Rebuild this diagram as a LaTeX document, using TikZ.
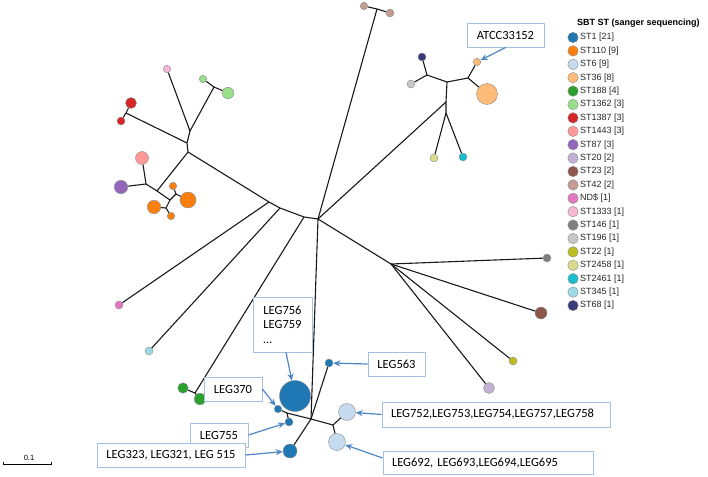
\documentclass[tikz,border=0pt]{standalone}
\usepackage{fontspec}
\setmainfont{Liberation Sans}
\newfontfamily\calibri{Carlito}
\usetikzlibrary{arrows.meta}
\definecolor{cST1}{HTML}{1F77B4}
\definecolor{cST110}{HTML}{FF7F0E}
\definecolor{cST6}{HTML}{C6DBEF}
\definecolor{cST36}{HTML}{FFBB78}
\definecolor{cST188}{HTML}{2CA02C}
\definecolor{cST1362}{HTML}{98DF8A}
\definecolor{cST1387}{HTML}{D62728}
\definecolor{cST1443}{HTML}{FF9896}
\definecolor{cST87}{HTML}{9467BD}
\definecolor{cST20}{HTML}{C5B0D5}
\definecolor{cST23}{HTML}{8C564B}
\definecolor{cST42}{HTML}{C49C94}
\definecolor{cND}{HTML}{E377C2}
\definecolor{cST1333}{HTML}{F7B6D2}
\definecolor{cST146}{HTML}{7F7F7F}
\definecolor{cST196}{HTML}{C7C7C7}
\definecolor{cST22}{HTML}{BCBD22}
\definecolor{cST2458}{HTML}{DBDB8D}
\definecolor{cST2461}{HTML}{17BECF}
\definecolor{cST345}{HTML}{9EDAE5}
\definecolor{cST68}{HTML}{393B79}
\definecolor{boxblue}{HTML}{A3BFE2}
\definecolor{arrowblue}{HTML}{4F86C6}
\tikzset{
  edge/.style={draw=black!90, line width=1.1pt, line join=round},
  stnode/.style={circle, draw=black!45, line width=0.4pt, inner sep=0pt, minimum size=#1},
  lbl/.style={draw=boxblue, line width=0.9pt, fill=white, inner sep=0pt,
    font=\calibri\fontsize{12.5}{14.4}\selectfont, text=black},
  callout/.style={draw=arrowblue, line width=1.2pt, -{Stealth[length=7pt,width=6pt]}},
  legtxt/.style={anchor=west, inner sep=0pt, font=\fontsize{9}{11}\selectfont, text=black!85},
}
\begin{document}
\begin{tikzpicture}[x=1pt,y=-1pt]
\useasboundingbox (0,0) rectangle (708,476);

% ---------- upper-left cluster ----------
\node[stnode=7.5, fill=cST1333] (p1333) at (167,69) {};
\node[stnode=7.5, fill=cST1362] (g1362a) at (203,79) {};
\node[stnode=11.5, fill=cST1362] (g1362b) at (228,93) {};
\coordinate (jg) at (214,87);
\coordinate (A) at (190,131);
\coordinate (Ared) at (187,143);
\coordinate (B) at (188,152);
\node[stnode=11, fill=cST1387] (r1) at (131,103) {};
\node[stnode=8, fill=cST1387] (r2) at (121,121) {};
\coordinate (jr) at (126,113);
\node[stnode=13, fill=cST1443] (pk) at (142,158) {};
\node[stnode=13.5, fill=cST87] (pu) at (121,187) {};
\coordinate (C) at (146,184);
\coordinate (L) at (157,191);
\coordinate (D) at (170,200);
\coordinate (E) at (176,194);
\coordinate (F) at (166,208);
\node[stnode=7.5, fill=cST110] (o1) at (173,186) {};
\node[stnode=16, fill=cST110] (o2) at (188,200) {};
\node[stnode=13.5, fill=cST110] (o3) at (154,207) {};
\node[stnode=7.5, fill=cST110] (o4) at (171,216) {};

% ---------- main backbone ----------
\coordinate (P1) at (269,202);
\coordinate (P2) at (280,208);
\coordinate (P3) at (304,217);
\coordinate (R) at (318,219);
\node[stnode=8, fill=cND] (nd) at (119,305) {};
\node[stnode=8, fill=cST345] (s345) at (149,351) {};
\coordinate (G) at (195,393);
\node[stnode=10.5, fill=cST188] (gr1) at (183,388) {};
\node[stnode=11.5, fill=cST188] (gr2) at (200,399) {};

% ---------- top ----------
\coordinate (T) at (377,9);
\node[stnode=7.5, fill=cST42] (b1) at (364,6) {};
\node[stnode=8, fill=cST42] (b2) at (390,13) {};

% ---------- upper-right cluster ----------
\coordinate (K2) at (446,102);
\coordinate (K1) at (447,82);
\coordinate (K3) at (446,113);
\node[stnode=8, fill=cST2458] (s2458) at (434,158) {};
\node[stnode=8, fill=cST2461] (s2461) at (463,157) {};
\coordinate (Kl) at (427,75);
\node[stnode=8, fill=cST68] (navy) at (422,57) {};
\node[stnode=8, fill=cST196] (g196) at (411,84) {};
\coordinate (Kr) at (468,78);
\node[stnode=7.5, fill=cST36] (atcc) at (477,62) {};
\node[stnode=21, fill=cST36] (big36) at (487,94) {};

% ---------- right branches ----------
\coordinate (Q) at (391,264);
\node[stnode=8, fill=cST146] (s146) at (547,258) {};
\node[stnode=12, fill=cST23] (s23) at (541,313) {};
\node[stnode=8, fill=cST22] (s22) at (513,361) {};
\node[stnode=11, fill=cST20] (s20) at (489,388) {};

% ---------- bottom cluster ----------
\coordinate (J1) at (287,413);
\coordinate (J2) at (311,419);
\coordinate (J3) at (333,425);
\node[stnode=31, fill=cST1] (n756) at (295,396) {};
\node[stnode=7.5, fill=cST1] (n370) at (278,409) {};
\node[stnode=8, fill=cST1] (n755) at (289,422) {};
\node[stnode=8, fill=cST1] (n563) at (329,363) {};
\node[stnode=14, fill=cST1] (n323) at (290,451) {};
\node[stnode=17, fill=cST6] (n6a) at (347,412) {};
\node[stnode=17, fill=cST6] (n6b) at (337,442) {};

% ---------- edges ----------
\draw[edge] (p1333) -- (A);
\draw[edge] (jg) -- (g1362a);
\draw[edge] (jg) -- (g1362b);
\draw[edge] (jg) -- (A);
\draw[edge] (A) -- (Ared) -- (B);
\draw[edge] (jr) -- (r1);
\draw[edge] (jr) -- (r2);
\draw[edge] (jr) -- (Ared);
\draw[edge] (B) -- (L);
\draw[edge] (pk) -- (C);
\draw[edge] (pu) -- (C);
\draw[edge] (C) -- (L) -- (D);
\draw[edge] (E) -- (D) -- (F);
\draw[edge] (E) -- (o1);
\draw[edge] (E) -- (o2);
\draw[edge] (F) -- (o3);
\draw[edge] (F) -- (o4);
\draw[edge] (B) -- (P1) -- (P2) -- (P3) -- (R);
\draw[edge] (P1) -- (nd);
\draw[edge] (P2) -- (s345);
\draw[edge] (P3) -- (G);
\draw[edge] (G) -- (gr1);
\draw[edge] (G) -- (gr2);
\draw[edge] (R) -- (T);
\draw[edge] (T) -- (b1);
\draw[edge] (T) -- (b2);
\draw[edge] (R) -- (K2);
\draw[edge] (K1) -- (K2) -- (K3);
\draw[edge] (K3) -- (s2458);
\draw[edge] (K3) -- (s2461);
\draw[edge] (K1) -- (Kl);
\draw[edge] (Kl) -- (navy);
\draw[edge] (Kl) -- (g196);
\draw[edge] (K1) -- (Kr);
\draw[edge] (Kr) -- (atcc);
\draw[edge] (Kr) -- (big36);
\draw[edge] (R) -- (Q);
\draw[edge] (Q) -- (s146);
\draw[edge] (Q) -- (s23);
\draw[edge] (Q) -- (s22);
\draw[edge] (Q) -- (s20);
\draw[edge] (R) -- (J2);
\draw[edge] (n563) -- (J2);
\draw[edge] (J2) -- (n323);
\draw[edge] (n370) -- (J1);
\draw[edge] (J1) -- (n755);
\draw[edge] (J1) -- (J2) -- (J3);
\draw[edge] (J3) -- (n6a);
\draw[edge] (J3) -- (n6b);

% ---------- callouts ----------
\node[lbl, minimum width=77pt, minimum height=24pt] (bATCC) at (505.5,35) {ATCC33152};
\draw[callout] (bATCC.south) -- (atcc);
\node[lbl, minimum width=59pt, minimum height=55pt, align=left] (b756) at (282.5,324.5) {LEG756\\LEG759\\…};
\draw[callout] ([xshift=3.5pt]b756.south) -- (n756);
\node[lbl, minimum width=58pt, minimum height=24pt] (b370) at (233,389) {LEG370};
\draw[callout] (b370.east) -- (n370);
\node[lbl, minimum width=58pt, minimum height=24pt] (b755) at (219,435) {LEG755};
\draw[callout] (b755.east) -- (n755);
\node[lbl, minimum width=148pt, minimum height=24pt] (b323) at (171,455) {LEG323, LEG321, LEG 515};
\draw[callout] (b323.east) -- (n323);
\node[lbl, minimum width=57pt, minimum height=24pt] (b563) at (396.5,364) {LEG563};
\draw[callout] (b563.west) -- (n563);
\node[lbl, text width=210pt, inner xsep=9pt, align=left, minimum height=25pt] (b752) at (496,414.5) {LEG752,LEG753,LEG754,LEG757,LEG758};
\draw[callout] (b752.west) -- (n6a);
\node[lbl, text width=192pt, inner xsep=9pt, align=left, minimum height=23pt] (b692) at (488,463) {LEG692, LEG693,LEG694,LEG695};
\draw[callout] ([yshift=5pt]b692.west) -- (n6b);

% ---------- legend ----------
\node[anchor=west, inner sep=0pt, font=\bfseries\fontsize{9}{11}\selectfont] (legtitle) at (577,23) {SBT ST (sanger sequencing)};
\foreach \c/\t [count=\i from 0] in {cST1/{ST1 [21]}, cST110/{ST110 [9]}, cST6/{ST6 [9]}, cST36/{ST36 [8]},
  cST188/{ST188 [4]}, cST1362/{ST1362 [3]}, cST1387/{ST1387 [3]}, cST1443/{ST1443 [3]}, cST87/{ST87 [3]},
  cST20/{ST20 [2]}, cST23/{ST23 [2]}, cST42/{ST42 [2]}, cND/{ND\$ [1]}, cST1333/{ST1333 [1]},
  cST146/{ST146 [1]}, cST196/{ST196 [1]}, cST22/{ST22 [1]}, cST2458/{ST2458 [1]}, cST2461/{ST2461 [1]},
  cST345/{ST345 [1]}, cST68/{ST68 [1]}}{
  \node[stnode=10.5, fill=\c] (leg\i) at (573,{37.5+13.4*\i}) {};
  \node[legtxt] (legt\i) at (580,{37.5+13.4*\i}) {\t};
}

% ---------- scale bar ----------
\coordinate (sbL) at (3,464);
\coordinate (sbR) at (51,464);
\draw[line width=0.7pt] ([yshift=2pt]sbL) -- (sbL) -- (sbR) -- ([yshift=2pt]sbR);
\node[inner sep=0pt, font=\fontsize{7.5}{9}\selectfont] (sblabel) at (29,458) {0.1};
\end{tikzpicture}
\end{document}
